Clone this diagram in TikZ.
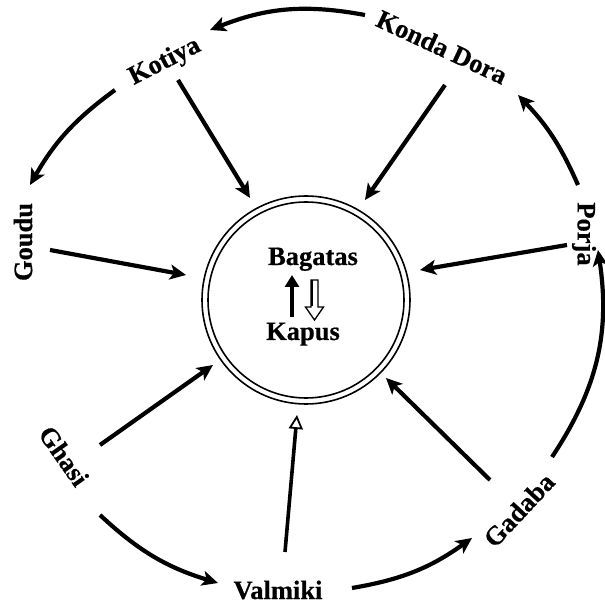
\documentclass[tikz,border=0pt]{standalone}
\usepackage{fontspec}
\setmainfont{Liberation Serif}[BoldFeatures={FakeBold=0.6}]
\usetikzlibrary{arrows.meta}
\tikzset{
  lbl/.style={font=\bfseries\fontsize{26.5}{30}\selectfont, inner sep=0pt},
  conn/.style={line width=4.2pt, -{Stealth[length=16pt,width=15pt,inset=4pt]}},
  ring/.style={line width=1.6pt}
}
\begin{document}
\begin{tikzpicture}[x=1pt,y=1pt]
\useasboundingbox (0,0) rectangle (605,608);
% centre circle
\coordinate (C) at (306,308);
\draw[ring] (C) circle[radius=104];
\draw[ring] (C) circle[radius=98];
\node[lbl, anchor=base] (bag) at (313,343) {Bagatas};
\node[lbl, anchor=base] (kap) at (303,268) {Kapus};
% inner arrows
\coordinate (ua1) at (292,291);
\coordinate (ua2) at (292,333);
\draw[line width=4.6pt, -{Triangle[length=12pt,width=14pt]}] (ua1) -- (ua2);
\draw[line width=1.3pt, line join=miter] (311,328) -- (318,328) -- (318,301) -- (323.5,301) -- (314.5,288) -- (305.5,301) -- (311,301) -- cycle;
\draw[line width=2.2pt] (312,328) -- (312,302);
% labels
\node[lbl, rotate=-25] (kd) at (442,561) {Konda Dora};
\node[lbl, rotate=27] (kot) at (165,546) {Kotiya};
\node[lbl, rotate=90] (gou) at (23,366) {Goudu};
\node[lbl, rotate=-90] (por) at (584,374) {Porja};
\node[lbl, rotate=-55] (gha) at (64,152) {Ghasi};
\node[lbl, anchor=base] (val) at (278,9) {Valmiki};
\node[lbl, rotate=47] (gad) at (519,98) {Gadaba};
% outer cycle coordinates
\coordinate (a1s) at (365,593); \coordinate (a1e) at (210,578);
\coordinate (a2s) at (115,518); \coordinate (a2e) at (30,423);
\coordinate (a3s) at (100,93);  \coordinate (a3e) at (218,25);
\coordinate (a4s) at (352,20);  \coordinate (a4e) at (472,70);
\coordinate (a5s) at (552,151); \coordinate (a5e) at (598,358);
\coordinate (a6s) at (578,423); \coordinate (a6e) at (518,513);
\draw[conn] (a1s) to[bend right=16] (a1e);
\draw[conn] (a2s) to[bend right=12] (a2e);
\draw[conn] (a3s) to[bend right=13] (a3e);
\draw[conn] (a4s) to[bend right=13] (a4e);
\draw[conn] (a5s) to[bend right=21] (a5e);
\draw[conn] (a6s) to[bend right=10] (a6e);
% inward arrows
\coordinate (i1s) at (178,528); \coordinate (i1e) at (250,410);
\coordinate (i2s) at (445,523); \coordinate (i2e) at (365,408);
\coordinate (i3s) at (50,358);  \coordinate (i3e) at (186,333);
\coordinate (i4s) at (567,363); \coordinate (i4e) at (420,338);
\coordinate (i5s) at (100,163); \coordinate (i5e) at (213,243);
\coordinate (i6s) at (285,56);  \coordinate (i6e) at (297,193);
\coordinate (i7s) at (490,128); \coordinate (i7e) at (386,230);
\draw[conn] (i1s) -- (i1e);
\draw[conn] (i2s) -- (i2e);
\draw[conn] (i3s) -- (i3e);
\draw[conn] (i4s) -- (i4e);
\draw[conn] (i5s) -- (i5e);
\draw[line width=3.6pt, -{Triangle[open,length=14pt,width=14pt,line width=1.8pt]}] (i6s) -- (i6e);
\draw[conn] (i7s) -- (i7e);
\end{tikzpicture}
\end{document}
